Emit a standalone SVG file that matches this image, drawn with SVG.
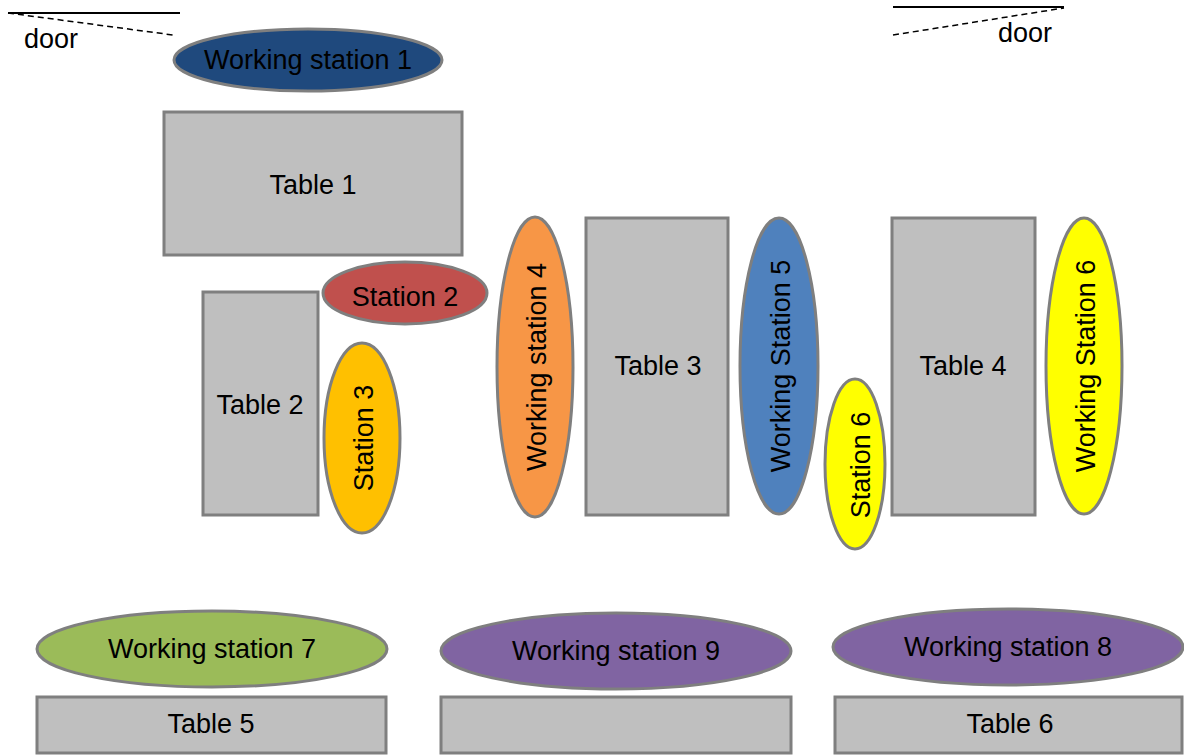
<svg xmlns="http://www.w3.org/2000/svg" width="1184" height="756" viewBox="0 0 1184 756">
<style>
.tbl{fill:#bfbfbf;stroke:#7f7f7f;stroke-width:3}
.st{stroke:#7f7f7f;stroke-width:3}
text{font-family:"Liberation Sans",Arial,sans-serif;font-size:27px;fill:#000;text-anchor:middle;dominant-baseline:central}
.door{stroke:#000;stroke-width:2;fill:none}
.dash{stroke:#000;stroke-width:1.5;stroke-dasharray:6 4;fill:none}
</style>
<rect width="1184" height="756" fill="#fff"/>
<g id="doors">
<line class="door" x1="8" y1="13" x2="180" y2="13"/>
<line class="dash" x1="8" y1="13" x2="173" y2="35"/>
<text x="51" y="39">door</text>
<line class="door" x1="893" y1="7" x2="1064" y2="7"/>
<line class="dash" x1="893" y1="35" x2="1064" y2="8"/>
<text x="1025" y="33">door</text>
</g>
<g id="ws1"><ellipse class="st" cx="308" cy="60" rx="134" ry="31" fill="#1f497d"/><text x="308" y="60">Working station 1</text></g>
<g id="table1"><rect class="tbl" x="164" y="112" width="298" height="143"/><text x="313" y="185">Table 1</text></g>
<g id="table2"><rect class="tbl" x="203" y="292" width="115" height="223"/><text x="260" y="405">Table 2</text></g>
<g id="station2"><ellipse class="st" cx="405" cy="293" rx="82" ry="31" fill="#c0504d"/><text x="405" y="297">Station 2</text></g>
<g id="station3"><ellipse class="st" cx="362" cy="438" rx="38" ry="95" fill="#ffc000"/><text x="364" y="438" transform="rotate(-90 364 438)">Station 3</text></g>
<g id="ws4"><ellipse class="st" cx="535" cy="367" rx="38" ry="150" fill="#f79646"/><text x="537" y="367" transform="rotate(-90 537 367)">Working station 4</text></g>
<g id="table3"><rect class="tbl" x="586" y="218" width="142" height="297"/><text x="658" y="366">Table 3</text></g>
<g id="ws5"><ellipse class="st" cx="779" cy="366" rx="39" ry="148" fill="#4f81bd"/><text x="781" y="366" transform="rotate(-90 781 366)">Working Station 5</text></g>
<g id="station6"><ellipse class="st" cx="855" cy="464" rx="30" ry="85" fill="#ffff00"/><text x="861" y="465" transform="rotate(-90 861 465)">Station 6</text></g>
<g id="table4"><rect class="tbl" x="892" y="218" width="143" height="297"/><text x="963" y="366">Table 4</text></g>
<g id="ws6"><ellipse class="st" cx="1084" cy="366" rx="38" ry="148" fill="#ffff00"/><text x="1086" y="366" transform="rotate(-90 1086 366)">Working Station 6</text></g>
<g id="ws7"><ellipse class="st" cx="212" cy="649" rx="175" ry="38" fill="#9bbb59"/><text x="212" y="649">Working station 7</text></g>
<g id="ws9"><ellipse class="st" cx="616" cy="651" rx="175" ry="38" fill="#8064a2"/><text x="616" y="651">Working station 9</text></g>
<g id="ws8"><ellipse class="st" cx="1008" cy="647" rx="175" ry="38" fill="#8064a2"/><text x="1008" y="647">Working station 8</text></g>
<g id="table5"><rect class="tbl" x="37" y="697" width="349" height="56"/><text x="211" y="724">Table 5</text></g>
<g id="tableMid"><rect class="tbl" x="441" y="697" width="350" height="56"/></g>
<g id="table6"><rect class="tbl" x="835" y="697" width="347" height="56"/><text x="1010" y="724">Table 6</text></g>
<g id="connectors"/>
</svg>
